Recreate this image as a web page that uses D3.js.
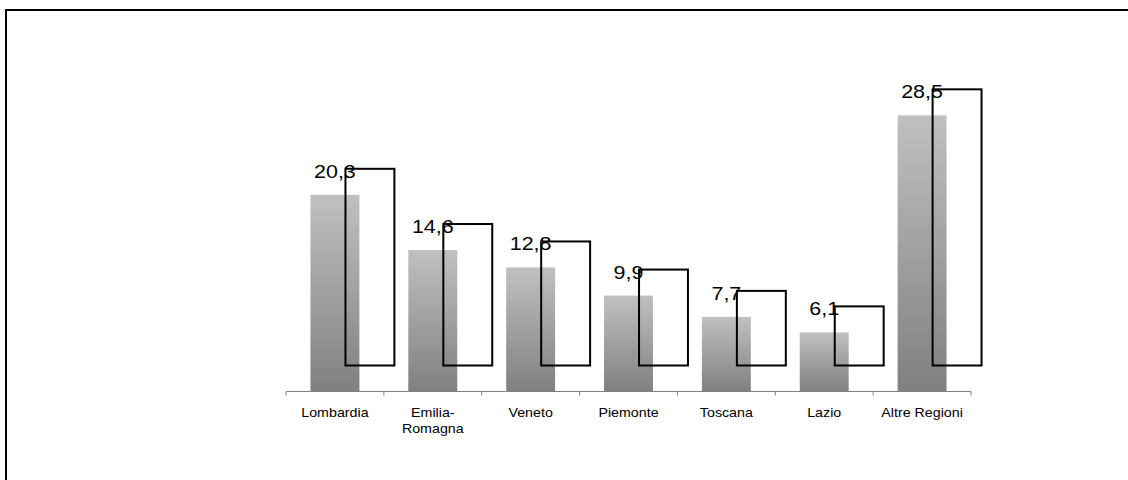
<!DOCTYPE html>
<html>
<head>
<meta charset="utf-8">
<script src="https://cdn.jsdelivr.net/npm/d3@7/dist/d3.min.js"></script>
<style>
  html, body { margin: 0; padding: 0; background: #fff; overflow: hidden; }
  svg { display: block; overflow: hidden; font-family: Arial, "Liberation Sans", sans-serif; }
</style>
</head>
<body>
<svg id="chart" width="1128" height="480"></svg>
<script>
// Quote per regione (%)
const categories = ["Lombardia", "Emilia-Romagna", "Veneto", "Piemonte", "Toscana", "Lazio", "Altre Regioni"];
const categoryLines = [["Lombardia"], ["Emilia-", "Romagna"], ["Veneto"], ["Piemonte"], ["Toscana"], ["Lazio"], ["Altre Regioni"]];
const values = [20.3, 14.6, 12.8, 9.9, 7.7, 6.1, 28.5];
const valueLabels = ["20,3", "14,6", "12,8", "9,9", "7,7", "6,1", "28,5"];

const svg = d3.select("#chart");

// Outer frame (runs past the right and bottom edges)
svg.append("path")
  .attr("d", "M1140,10H6V500")
  .attr("fill", "none").attr("stroke", "#000").attr("stroke-width", 2);

const baseY = 391.5;
const x = d3.scaleBand().domain(categories).range([286, 971]).padding(0);
const y = d3.scaleLinear().domain([0, 30]).range([baseY, baseY - 290.7]);

const barW = x.bandwidth() * 0.5;
const shiftX = 35, shiftY = -26;

// Vertical gradient used by each bar
const defs = svg.append("defs");
const grad = defs.append("linearGradient")
  .attr("id", "barGrad").attr("x1", 0).attr("y1", 0).attr("x2", 0).attr("y2", 1);
grad.append("stop").attr("offset", "0%").attr("stop-color", "#c0c0c0");
grad.append("stop").attr("offset", "100%").attr("stop-color", "#808080");

const data = categories.map((c, i) => ({ c, v: values[i], label: valueLabels[i], lines: categoryLines[i] }));

// Shaded bars
svg.append("g").selectAll("rect").data(data).join("rect")
  .attr("x", d => x(d.c) + (x.bandwidth() - barW) / 2)
  .attr("y", d => y(d.v))
  .attr("width", barW)
  .attr("height", d => baseY - y(d.v))
  .attr("fill", "url(#barGrad)");

// Value labels
svg.append("g").selectAll("text").data(data).join("text")
  .attr("transform", d => `translate(${x(d.c) + x.bandwidth() / 2},${y(d.v) - 17}) scale(1.16,1)`)
  .attr("text-anchor", "middle")
  .attr("font-size", "18.5px")
  .attr("fill", "#000")
  .text(d => d.label);

// Outlined, offset bars
svg.append("g").selectAll("rect").data(data).join("rect")
  .attr("x", d => x(d.c) + (x.bandwidth() - barW) / 2 + shiftX)
  .attr("y", d => y(d.v) + shiftY)
  .attr("width", barW)
  .attr("height", d => baseY - y(d.v))
  .attr("fill", "none")
  .attr("stroke", "#000")
  .attr("stroke-width", 2);

// Category axis
const axisG = svg.append("g").attr("transform", `translate(0,${baseY})`);
axisG.call(d3.axisBottom(x).tickSize(0).tickFormat(""))
  .call(g => g.select(".domain").attr("stroke", "#808080").attr("d", `M${x.range()[0]},0H${x.range()[1]}`));

const boundaries = categories.map(c => x(c)).concat([x.range()[1]]);
axisG.selectAll("line.bound").data(boundaries).join("line")
  .attr("class", "bound")
  .attr("x1", d => d).attr("x2", d => d)
  .attr("y1", 0).attr("y2", 4)
  .attr("stroke", "#808080");

const catLabels = svg.append("g").selectAll("text").data(data).join("text")
  .attr("transform", d => `translate(${x(d.c) + x.bandwidth() / 2},${baseY + 25}) scale(1.14,1)`)
  .attr("text-anchor", "middle")
  .attr("font-size", "12.5px")
  .attr("fill", "#000");
catLabels.selectAll("tspan").data(d => d.lines).join("tspan")
  .attr("x", 0)
  .attr("dy", (d, i) => i === 0 ? 0 : 16.7)
  .text(d => d);
</script>
</body>
</html>
